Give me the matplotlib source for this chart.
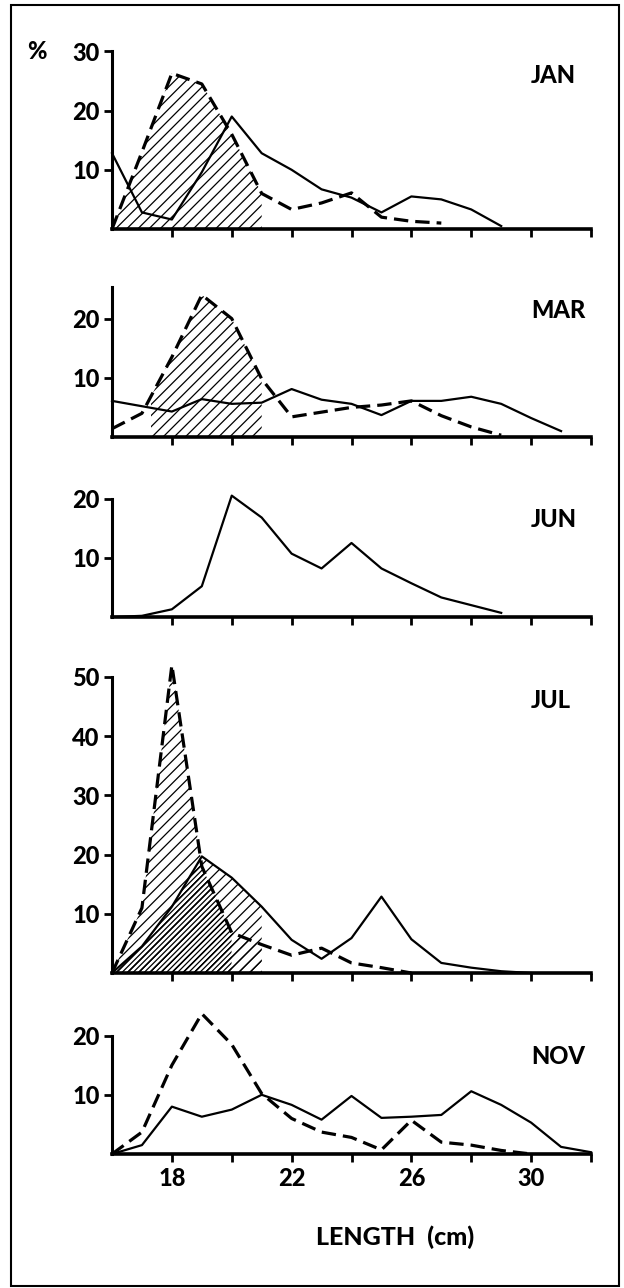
import numpy as np
import matplotlib
matplotlib.use("Agg")
import matplotlib.pyplot as plt
from matplotlib.patches import Rectangle

# length classes (cm)
length = np.arange(16, 33)

# percent frequency
jan_solid = [12.8, 2.8, 1.6, 9.6, 19.0, 12.8, 10.0, 6.7, 5.3, 2.8, 5.5, 5.0, 3.3, 0.5]
jan_dash = [0, 13.0, 26.3, 24.5, 16.0, 6.0, 3.3, 4.4, 6.1, 2.0, 1.3, 1.0]

mar_solid = [6.1, 5.2, 4.3, 6.4, 5.6, 5.8, 8.1, 6.3, 5.6, 3.7, 6.1, 6.1, 6.8, 5.6, 3.2, 1.0]
mar_dash = [1.4, 4.0, 13.5, 24.0, 20.0, 9.8, 3.4, 4.2, 5.0, 5.4, 6.1, 3.6, 1.7, 0.3]

jun_solid = [0, 0.2, 1.3, 5.2, 20.5, 16.8, 10.7, 8.2, 12.5, 8.2, 5.7, 3.3, 2.0, 0.7]

jul_solid = [0, 4.5, 11.2, 19.7, 16.1, 11.2, 5.6, 2.4, 5.9, 12.9, 5.7, 1.7, 0.9, 0.3, 0]
jul_dash = [0, 11.0, 52.0, 18.0, 6.8, 4.8, 3.0, 4.2, 1.7, 0.9, 0]

nov_solid = [0, 1.5, 8.0, 6.3, 7.5, 10.0, 8.3, 5.8, 9.8, 6.1, 6.3, 6.6, 10.6, 8.3, 5.3, 1.2, 0.3]
nov_dash = [0, 3.7, 15.0, 23.7, 18.5, 10.2, 6.0, 3.7, 2.8, 0.7, 5.7, 2.0, 1.5, 0.6, 0]

xtick_pos = [18, 20, 22, 24, 26, 28, 30, 32]
xtick_lab = ["18", "", "22", "", "26", "", "30", ""]

plt.rcParams["font.family"] = ["Lato", "DejaVu Sans"]
plt.rcParams["font.weight"] = 900
plt.rcParams["hatch.linewidth"] = 0.9

W, H = 624, 1288
PX = 5.92  # pixels per percent unit
FS = 17

fig = plt.figure(figsize=(6.24, 12.88), dpi=100)


def make_ax(base, ymax, top_tick, yticks, name, name_y, last=False):
    ax = fig.add_axes([112 / W, 1 - base / H, 479 / W, ymax * PX / H])
    ax.set_xlim(16, 32)
    ax.set_ylim(0, ymax)
    for s in ["top", "right"]:
        ax.spines[s].set_visible(False)
    ax.spines["left"].set_linewidth(2.2)
    ax.spines["bottom"].set_linewidth(2.6)
    ax.spines["left"].set_bounds(0, top_tick)
    ax.set_xticks(xtick_pos)
    ax.set_xticklabels(xtick_lab if last else [""] * len(xtick_pos))
    ax.set_yticks(yticks)
    ax.set_yticklabels([str(v) for v in yticks])
    ax.tick_params(width=2, length=6, labelsize=FS, pad=3)
    ax.text(30, name_y, name, ha="left", va="center", fontsize=FS, fontweight=900)
    return ax


def solid(ax, vals):
    ax.plot(length[:len(vals)], vals, color="black", lw=1.6, clip_on=False, zorder=3)


def dashed(ax, vals):
    ax.plot(length[:len(vals)], vals, color="black", lw=2.3, dashes=(4.5, 2.2),
            clip_on=False, zorder=3)


def hatch(ax, vals, xmax, pattern="///", xmin=16):
    x = length[:len(vals)]
    keep = x <= xmax
    poly = ax.fill_between(x[keep], 0, np.array(vals)[keep], facecolor="none",
                           edgecolor="black", hatch=pattern, lw=0, zorder=1)
    if xmin > 16:
        clip = Rectangle((xmin, 0), xmax - xmin, 100, transform=ax.transData)
        poly.set_clip_path(clip)
    return poly


# JAN
ax = make_ax(229, 30, 30, [10, 20, 30], "JAN", 26)
hatch(ax, jan_dash, 21)
solid(ax, jan_solid)
dashed(ax, jan_dash)
ax.text(13.5, 30, "%", ha="center", va="center", fontsize=FS, clip_on=False)

# MAR
ax = make_ax(437, 25.3, 25.3, [10, 20], "MAR", 21.4)
hatch(ax, mar_dash, 21, xmin=17.3)
solid(ax, mar_solid)
dashed(ax, mar_dash)

# JUN
ax = make_ax(617, 20, 20, [10, 20], "JUN", 16.4)
solid(ax, jun_solid)

# JUL
ax = make_ax(973, 52.5, 50, [10, 20, 30, 40, 50], "JUL", 46)
hatch(ax, jul_dash, 21)
hatch(ax, jul_solid, 21)
dark = hatch(ax, jul_solid, 20, pattern="//////")
x = length[:len(jul_dash)]
clip = ax.fill_between(x[x <= 20], 0, np.array(jul_dash)[x <= 20],
                       facecolor="none", lw=0)
dark.set_clip_path(clip.get_paths()[0], ax.transData)
solid(ax, jul_solid)
dashed(ax, jul_dash)

# NOV
ax = make_ax(1154, 24.5, 20, [10, 20], "NOV", 16.5, last=True)
solid(ax, nov_solid)
dashed(ax, nov_dash)

fig.text(395 / W, 1 - 1237 / H, "LENGTH  (cm)", ha="center", va="center",
         fontsize=18, fontweight=900)

fig.add_artist(Rectangle((11 / W, 1 - 1286 / H), 608 / W, 1281 / H,
                         transform=fig.transFigure, fill=False, lw=1.5, ec="black"))

fig.savefig("out.png", dpi=100)
